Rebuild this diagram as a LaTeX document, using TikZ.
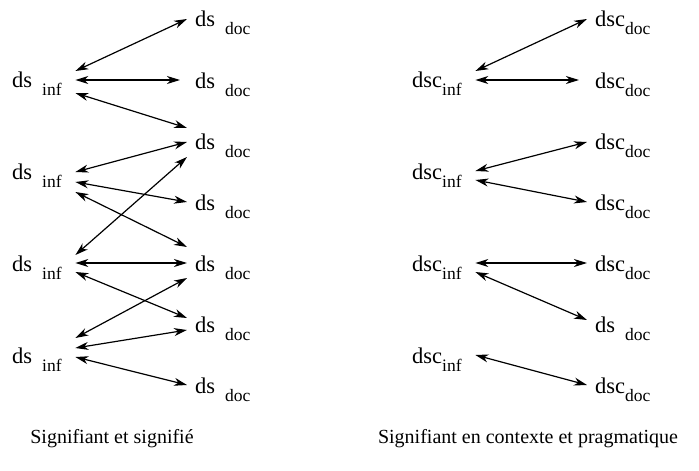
\documentclass[tikz,border=0pt]{standalone}
\usepackage{fontspec}
\setmainfont{Liberation Serif}
\usetikzlibrary{arrows.meta}
\newcommand{\subsz}{\fontsize{17.5}{20}\selectfont}
\newcommand{\lbl}[2]{#1\raisebox{-8pt}{\subsz #2}}
% the ds labels keep the room of the c
\newcommand{\dslbl}[1]{ds\phantom{c}\raisebox{-8pt}{\subsz #1}}

\begin{document}
\begin{tikzpicture}[x=1pt, y=-1pt, font=\fontsize{22.5}{26}\selectfont,
    infnode/.style={anchor=base west, inner xsep=12pt, inner ysep=0pt, text width=51pt},
    docnode/.style={anchor=base west, inner xsep=8pt, inner ysep=0pt, text width=60pt},
    link/.style={line width=1.2pt, {Stealth[length=13pt,width=8pt,inset=4pt]}-{Stealth[length=13pt,width=8pt,inset=4pt]}}]
    \useasboundingbox (0,0) rectangle (699,471);

    % signifiant et signifie
    \node[infnode] (li1) at (0,87)  {\dslbl{inf}};
    \node[infnode] (li2) at (0,179) {\dslbl{inf}};
    \node[infnode] (li3) at (0,271) {\dslbl{inf}};
    \node[infnode] (li4) at (0,363) {\dslbl{inf}};
    \node[docnode] (ld1) at (187,27)  {\dslbl{doc}};
    \node[docnode] (ld2) at (187,88)  {\dslbl{doc}};
    \node[docnode] (ld3) at (187,149) {\dslbl{doc}};
    \node[docnode] (ld4) at (187,210) {\dslbl{doc}};
    \node[docnode] (ld5) at (187,271) {\dslbl{doc}};
    \node[docnode] (ld6) at (187,332) {\dslbl{doc}};
    \node[docnode] (ld7) at (187,393) {\dslbl{doc}};

    \draw[link] ([yshift=16pt]li1.base east) -- ([yshift=8pt]ld1.base west);
    \draw[link, shorten >=7pt] ([yshift=7pt]li1.base east) -- ([yshift=8pt]ld2.base west);
    \draw[link] ([yshift=-6pt]li1.base east) -- ([yshift=21pt]ld3.base west);
    \draw[link] ([yshift=7pt]li2.base east) -- ([yshift=7pt]ld3.base west);
    \draw[link] ([yshift=-3pt]li2.base east) -- ([yshift=8pt]ld4.base west);
    \draw[link] ([yshift=-13pt]li2.base east) -- ([yshift=24pt]ld5.base west);
    \draw[link] ([yshift=-8pt]ld3.base west) -- ([yshift=16pt]li3.base east);
    \draw[link] ([yshift=8pt]li3.base east) -- ([yshift=8pt]ld5.base west);
    \draw[link] ([yshift=-1pt]li3.base east) -- ([yshift=14pt]ld6.base west);
    \draw[link] ([yshift=25pt]li4.base east) -- ([yshift=-7pt]ld5.base west);
    \draw[link] ([yshift=15pt]li4.base east) -- ([yshift=2pt]ld6.base west);
    \draw[link] ([yshift=6pt]li4.base east) -- ([yshift=8pt]ld7.base west);

    % signifiant en contexte
    \node[infnode] (ri1) at (400,87)  {\lbl{dsc}{inf}};
    \node[infnode] (ri2) at (400,179) {\lbl{dsc}{inf}};
    \node[infnode] (ri3) at (400,271) {\lbl{dsc}{inf}};
    \node[infnode] (ri4) at (400,363) {\lbl{dsc}{inf}};
    \node[docnode] (rd1) at (587,27)  {\lbl{dsc}{doc}};
    \node[docnode] (rd2) at (587,88)  {\lbl{dsc}{doc}};
    \node[docnode] (rd3) at (587,149) {\lbl{dsc}{doc}};
    \node[docnode] (rd4) at (587,210) {\lbl{dsc}{doc}};
    \node[docnode] (rd5) at (587,271) {\lbl{dsc}{doc}};
    \node[docnode] (rd6) at (587,332) {\dslbl{doc}};
    \node[docnode] (rd7) at (587,393) {\lbl{dsc}{doc}};

    \draw[link] ([yshift=16pt]ri1.base east) -- ([yshift=8pt]rd1.base west);
    \draw[link, shorten >=8pt] ([yshift=7pt]ri1.base east) -- ([yshift=8pt]rd2.base west);
    \draw[link] ([yshift=8pt]ri2.base east) -- ([yshift=7pt]rd3.base west);
    \draw[link] ([yshift=-1pt]ri2.base east) -- ([yshift=8pt]rd4.base west);
    \draw[link] ([yshift=8pt]ri3.base east) -- ([yshift=8pt]rd5.base west);
    \draw[link] ([yshift=-1pt]ri3.base east) -- ([yshift=12pt]rd6.base west);
    \draw[link] ([yshift=8pt]ri4.base east) -- ([yshift=8pt]rd7.base west);

    \node[anchor=base] (lcap) at (112,443) {\fontsize{20}{24}\selectfont Signifiant et signifié};
    \node[anchor=base] (rcap) at (528,443) {\fontsize{20}{24}\selectfont Signifiant en contexte et pragmatique};
\end{tikzpicture}
\end{document}
